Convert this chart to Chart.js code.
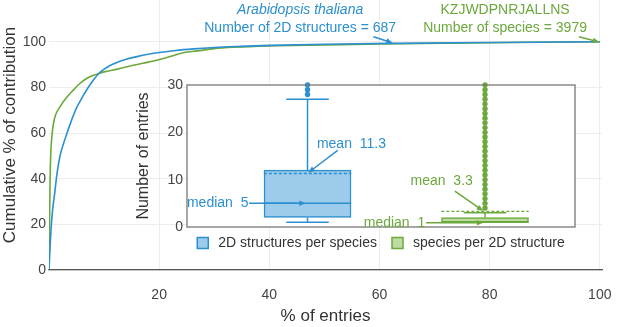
<!DOCTYPE html>
<html>
<head>
<meta charset="utf-8">
<script src="https://cdn.jsdelivr.net/npm/chart.js@4.4.0/dist/chart.umd.min.js"></script>
<style>
    html, body { margin: 0; padding: 0; background: #fff; }
    #wrap { position: relative; width: 617px; height: 327px; }
    #main { position: absolute; left: 0; top: 0; }
    #inset { position: absolute; left: 120px; top: 70px; }
</style>
</head>
<body>
<div id="wrap">
    <canvas id="main" width="617" height="327"></canvas>
    <canvas id="inset" width="480" height="190"></canvas>
</div>
<script>
// Cumulative contribution curves (% of entries -> cumulative %)
const entriesA = [0, 0.3, 0.6, 1, 1.5, 2, 3, 4, 5, 6, 7, 8, 9, 10, 11, 12, 14, 16, 18, 20, 23, 27, 30, 35, 40, 50, 62, 80, 100];
const contribA = [0, 15, 25, 33, 43, 50, 58, 65, 71, 75.5, 79.5, 83, 86, 88, 89.5, 90.6, 92.3, 93.5, 94.5, 95.3, 96.2, 97, 97.5, 98, 98.4, 98.9, 99.3, 99.7, 100];
const entriesK = [0, 0.1, 0.2, 0.3, 0.5, 0.8, 1.2, 2, 3, 4.4, 5.5, 6.9, 8.7, 10, 12.4, 15.3, 17, 19.6, 22, 24, 27, 30, 33.5, 40, 50, 60, 80, 100];
const contribK = [0, 20, 40, 50, 58, 64, 68, 71.5, 75, 78.8, 81.5, 84, 85.8, 86.8, 88, 89.7, 90.6, 91.9, 93.5, 95, 96, 97, 97.6, 98.2, 98.6, 99, 99.6, 100];
const xTicks = [20, 40, 60, 80, 100];
const yTicks = [0, 20, 40, 60, 80, 100];

// Inset box plot
const boxNames = ['2D structures per species', 'species per 2D structure'];
const boxPos = [1, 2];
const whiskerLow = [1, 1];
const q1 = [2, 1];
const median = [5, 1];
const q3 = [12, 2];
const whiskerHigh = [27, 3];
const mean = [11.3, 3.3];
const outliersA = [28, 29, 30];
const outliersK = [4, 5, 6, 7, 8, 9, 10, 11, 12, 13, 14, 15, 16, 17, 18, 19, 20, 21, 22, 23, 24, 25, 26, 27, 28, 29, 30];
const insetTicks = [0, 10, 20, 30];

const colors = {
    blue: '#2b8fd0',
    blueFill: '#9ccbec',
    green: '#6ca83c',
    greenFill: '#bddca2',
    grid: '#ececec',
    text: '#333',
    axis: '#555'
};
const FONT = "'Liberation Sans', Arial, sans-serif";
const BOX_HALF = 0.246;
const CAP_HALF = 0.12;

Chart.defaults.font.family = FONT;
Chart.defaults.animation = false;

function drawArrow(ctx, x1, y1, x2, y2, color) {
    const a = Math.atan2(y2 - y1, x2 - x1);
    const len = 7;
    ctx.save();
    ctx.strokeStyle = color;
    ctx.fillStyle = color;
    ctx.lineWidth = 1.5;
    ctx.beginPath();
    ctx.moveTo(x1, y1);
    ctx.lineTo(x2 - Math.cos(a) * 3, y2 - Math.sin(a) * 3);
    ctx.stroke();
    ctx.beginPath();
    ctx.moveTo(x2, y2);
    ctx.lineTo(x2 - len * Math.cos(a - 0.4), y2 - len * Math.sin(a - 0.4));
    ctx.lineTo(x2 - len * Math.cos(a + 0.4), y2 - len * Math.sin(a + 0.4));
    ctx.closePath();
    ctx.fill();
    ctx.restore();
}

function toPoints(xs, ys) {
    return xs.map((x, i) => ({ x: x, y: ys[i] }));
}

// Labels above the curves (data coordinates)
const mainNotes = [
    { color: colors.blue, lines: [['Arabidopsis thaliana', 'italic '], ['Number of 2D structures = 687', '']],
      x: 45.6, ys: [113.9, 106], from: [58.9, 102.2], to: [62.4, 99.5] },
    { color: colors.green, lines: [['KZJWDPNRJALLNS', ''], ['Number of species = 3979', '']],
      x: 82.8, ys: [113.9, 106], from: [96.2, 102.2], to: [99.9, 99.9] }
];

const mainNotesPlugin = {
    id: 'mainNotes',
    afterDatasetsDraw(chart) {
        const { ctx, scales: { x, y } } = chart;
        mainNotes.forEach(n => {
            ctx.save();
            ctx.fillStyle = n.color;
            ctx.textAlign = 'center';
            ctx.textBaseline = 'middle';
            n.lines.forEach((l, i) => {
                ctx.font = l[1] + '14px ' + FONT;
                ctx.fillText(l[0], x.getPixelForValue(n.x), y.getPixelForValue(n.ys[i]));
            });
            ctx.restore();
            drawArrow(ctx, x.getPixelForValue(n.from[0]), y.getPixelForValue(n.from[1]),
                x.getPixelForValue(n.to[0]), y.getPixelForValue(n.to[1]), n.color);
        });
    }
};

new Chart(document.getElementById('main'), {
    type: 'scatter',
    data: {
        datasets: [
            {
                label: 'Arabidopsis thaliana',
                data: toPoints(entriesA, contribA),
                showLine: true,
                borderColor: colors.blue,
                borderWidth: 1.6,
                pointRadius: 0,
                cubicInterpolationMode: 'monotone'
            },
            {
                label: 'KZJWDPNRJALLNS',
                data: toPoints(entriesK, contribK),
                showLine: true,
                borderColor: colors.green,
                borderWidth: 1.6,
                pointRadius: 0,
                cubicInterpolationMode: 'monotone'
            }
        ]
    },
    options: {
        responsive: false,
        events: [],
        layout: { padding: { left: 0, right: 15, top: 0, bottom: 0 } },
        plugins: { legend: { display: false }, tooltip: { enabled: false } },
        scales: {
            x: {
                type: 'linear',
                min: 0,
                max: 100.4,
                afterBuildTicks: s => { s.ticks = xTicks.map(v => ({ value: v })); },
                afterFit: s => { s.height = 57; s.paddingLeft = 0; s.paddingRight = 0; },
                grid: { color: colors.grid, drawTicks: false },
                border: { color: colors.axis, width: 1.2 },
                ticks: { color: '#444', font: { size: 14 }, padding: 17, maxRotation: 0 },
                title: { display: true, text: '% of entries', color: colors.text, font: { size: 17 }, padding: { top: 0, bottom: 0 } }
            },
            y: {
                min: 0,
                max: 118.3,
                afterBuildTicks: s => { s.ticks = yTicks.map(v => ({ value: v })); },
                afterFit: s => { s.width = 49; s.paddingTop = 0; s.paddingBottom = 0; },
                grid: { color: colors.grid, drawTicks: false },
                border: { display: false },
                ticks: { color: '#444', font: { size: 14 }, padding: 3 },
                title: { display: true, text: 'Cumulative % of contribution', color: colors.text, font: { size: 17 }, padding: { top: 0, bottom: 0 } }
            }
        }
    },
    plugins: [mainNotesPlugin]
});

// ---- inset box plot ----
function boxDatasets(i, color, fill, outliers) {
    const p = boxPos[i];
    const line = { type: 'scatter', showLine: true, borderColor: color, borderWidth: 1.5, pointRadius: 0, spanGaps: false, clip: 4 };
    return [
        {
            type: 'bar',
            data: [{ x: p, y: [q1[i], q3[i]] }],
            backgroundColor: fill,
            borderColor: color,
            borderWidth: 1.5,
            borderSkipped: false,
            barThickness: 87,
            grouped: false,
            order: 10
        },
        Object.assign({}, line, {
            data: [
                { x: p, y: q3[i] }, { x: p, y: whiskerHigh[i] }, { x: p, y: null },
                { x: p - CAP_HALF, y: whiskerHigh[i] }, { x: p + CAP_HALF, y: whiskerHigh[i] }, { x: p, y: null },
                { x: p, y: q1[i] }, { x: p, y: whiskerLow[i] }, { x: p, y: null },
                { x: p - CAP_HALF, y: whiskerLow[i] }, { x: p + CAP_HALF, y: whiskerLow[i] }
            ]
        }),
        Object.assign({}, line, {
            data: [{ x: p - BOX_HALF, y: median[i] }, { x: p + BOX_HALF, y: median[i] }]
        }),
        Object.assign({}, line, {
            borderWidth: 1.3,
            borderDash: [3, 2],
            data: [{ x: p - BOX_HALF, y: mean[i] }, { x: p + BOX_HALF, y: mean[i] }]
        }),
        {
            type: 'scatter',
            data: outliers.map(v => ({ x: p, y: v })),
            pointRadius: 2.7,
            backgroundColor: color,
            borderWidth: 0,
            clip: 4
        }
    ];
}

// Mean / median call-outs (data coordinates of the inset)
const insetNotes = [
    { text: 'mean  11.3', color: colors.blue, x: 1.053, y: 17.6, align: 'left', from: [1.17, 16.2], to: [1.005, 11.5] },
    { text: 'median  5', color: colors.blue, x: 0.667, y: 5, align: 'right', from: [0.671, 5], to: [0.99, 5] },
    { text: 'mean  3.3', color: colors.green, x: 1.756, y: 9.6, align: 'center', from: [1.83, 7.6], to: [1.99, 3.4] },
    { text: 'median  1', color: colors.green, x: 1.663, y: 0.85, align: 'right', from: [1.668, 0.9], to: [1.99, 0.9] }
];

const insetPlugin = {
    id: 'insetFrame',
    beforeDraw(chart) {
        const { ctx, chartArea: a } = chart;
        ctx.save();
        ctx.fillStyle = '#fff';
        ctx.fillRect(a.left, a.top, a.right - a.left, a.bottom - a.top);
        ctx.restore();
    },
    afterDraw(chart) {
        const { ctx, chartArea: a, scales: { x, y } } = chart;
        ctx.save();
        ctx.strokeStyle = '#777';
        ctx.lineWidth = 1.3;
        ctx.strokeRect(a.left, a.top, a.right - a.left, a.bottom - a.top);
        ctx.font = '14px ' + FONT;
        ctx.textBaseline = 'middle';
        insetNotes.forEach(n => {
            ctx.fillStyle = n.color;
            ctx.textAlign = n.align;
            ctx.fillText(n.text, x.getPixelForValue(n.x), y.getPixelForValue(n.y));
        });

        // legend, centred under the frame
        const box = 11, gapText = 10, gapItem = 15;
        const widths = boxNames.map(t => ctx.measureText(t).width);
        const total = widths.reduce((s, w) => s + box + gapText + w, 0) + gapItem * (boxNames.length - 1);
        let lx = (a.left + a.right) / 2 - total / 2;
        const ly = a.bottom + 16;
        boxNames.forEach((t, i) => {
            ctx.fillStyle = i === 0 ? colors.blueFill : colors.greenFill;
            ctx.strokeStyle = i === 0 ? colors.blue : colors.green;
            ctx.lineWidth = 1.5;
            ctx.fillRect(lx, ly - box / 2, box, box);
            ctx.strokeRect(lx, ly - box / 2, box, box);
            ctx.fillStyle = colors.text;
            ctx.textAlign = 'left';
            ctx.fillText(t, lx + box + gapText, ly);
            lx += box + gapText + widths[i] + gapItem;
        });
        ctx.restore();

        insetNotes.forEach(n => {
            drawArrow(ctx, x.getPixelForValue(n.from[0]), y.getPixelForValue(n.from[1]),
                x.getPixelForValue(n.to[0]), y.getPixelForValue(n.to[1]), n.color);
        });
    }
};

new Chart(document.getElementById('inset'), {
    type: 'bar',
    data: {
        datasets: [].concat(
            boxDatasets(0, colors.blue, colors.blueFill, outliersA),
            boxDatasets(1, colors.green, colors.greenFill, outliersK)
        )
    },
    options: {
        responsive: false,
        events: [],
        layout: { padding: { left: 0, right: 25, top: 15, bottom: 33 } },
        plugins: {
            tooltip: { enabled: false },
            legend: { display: false }
        },
        scales: {
            x: { type: 'linear', display: false, offset: false, min: 0.321, max: 2.507 },
            y: {
                min: 0,
                max: 30,
                afterBuildTicks: s => { s.ticks = insetTicks.map(v => ({ value: v })); },
                afterFit: s => { s.width = 67; s.paddingTop = 0; s.paddingBottom = 0; },
                grid: { display: false, drawTicks: false },
                border: { display: false },
                ticks: { color: '#444', font: { size: 14 }, padding: 4 },
                title: { display: true, text: 'Number of entries', color: colors.text, font: { size: 16 }, padding: { top: 14, bottom: 0 } }
            }
        }
    },
    plugins: [insetPlugin]
});
</script>
</body>
</html>
